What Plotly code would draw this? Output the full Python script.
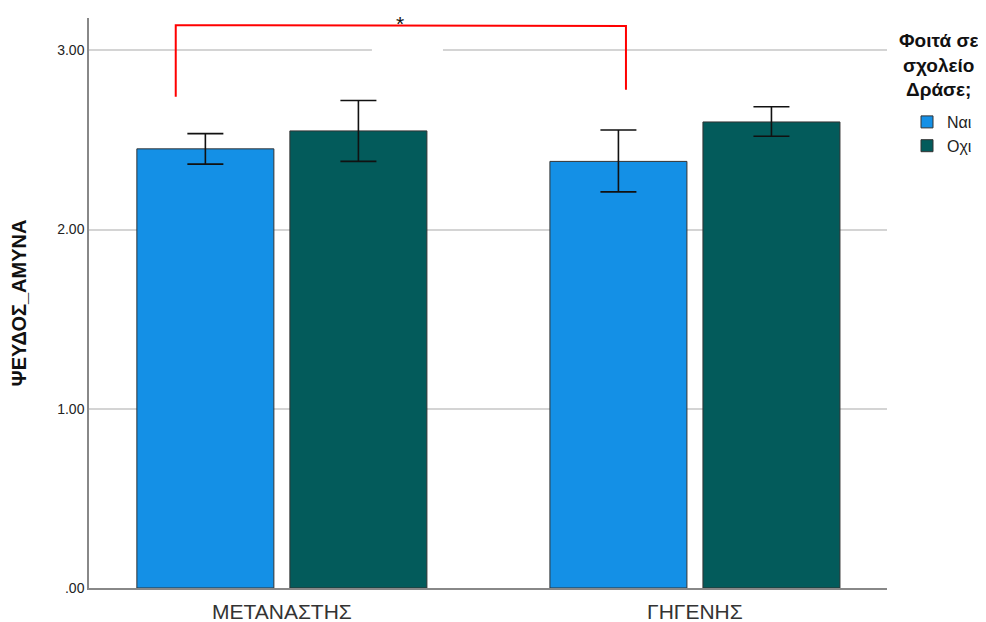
import plotly.graph_objects as go

categories = ["ΜΕΤΑΝΑΣΤΗΣ", "ΓΗΓΕΝΗΣ"]
series_names = ["Ναι", "Οχι"]
means_nai = [2.45, 2.38]
means_oxi = [2.55, 2.60]
err_plus_nai = [0.085, 0.175]
err_minus_nai = [0.085, 0.17]
err_plus_oxi = [0.17, 0.085]
err_minus_oxi = [0.17, 0.08]
colors = ["#1490e6", "#035b5b"]
y_ticks = [0, 1, 2, 3]
y_tick_labels = [".00", "1.00", "2.00", "3.00"]

W, H = 970, 614

fig = go.Figure()
for name, means, ep, em, col in [
    (series_names[0], means_nai, err_plus_nai, err_minus_nai, colors[0]),
    (series_names[1], means_oxi, err_plus_oxi, err_minus_oxi, colors[1]),
]:
    fig.add_trace(go.Bar(
        x=categories, y=means, name=name,
        marker=dict(color=col, line=dict(color="#333333", width=1)),
        error_y=dict(type="data", symmetric=False, array=ep, arrayminus=em,
                     color="#111111", thickness=1.6, width=18),
    ))

# gap in the top gridline
fig.add_shape(type="line", xref="x", yref="y", x0=0.218, x1=0.39, y0=3, y1=3,
              line=dict(color="white", width=4), layer="between")
# significance bracket
fig.add_shape(type="path", xref="x", yref="y",
              path="M -0.257 2.74 L -0.257 3.14 L 0.833 3.135 L 0.833 2.78",
              line=dict(color="#ff0000", width=2))
fig.add_annotation(x=0.287, y=3.14, xref="x", yref="y", text="*", showarrow=False,
                   yanchor="top", yshift=15, font=dict(size=21, color="#111111"))
fig.add_annotation(x=1.065, y=0.983, xref="paper", yref="paper", xanchor="center", yanchor="top",
                   text="<b>Φοιτά σε<br>σχολείο<br>Δράσε;</b>", showarrow=False,
                   font=dict(size=19, color="#111111", family="Liberation Sans, Arial"),
                   align="center")

fig.update_layout(
    width=W, height=H,
    margin=dict(l=81, r=91, t=10, b=34, autoexpand=False),
    paper_bgcolor="white", plot_bgcolor="white",
    barmode="group", bargap=0.259, bargroupgap=0.1046,
    font=dict(family="Liberation Sans, Arial", color="#222222"),
    showlegend=True,
    legend=dict(x=899 / W, y=1 - 97 / H, xref="container", yref="container",
                xanchor="left", yanchor="top",
                font=dict(size=16, color="#222222"), tracegroupgap=0,
                itemwidth=30),
    xaxis=dict(range=[-0.467, 1.465], showline=True, linecolor="#888888", linewidth=1.5,
               showgrid=False, ticks="", automargin=False, ticklabelstandoff=4,
               tickfont=dict(size=21, color="#333333")),
    yaxis=dict(range=[0, 3.18], tickvals=y_ticks, ticktext=y_tick_labels,
               showline=True, linecolor="#888888", linewidth=1.5, automargin=False,
               showgrid=True, gridcolor="#d4d4d4", gridwidth=2, zeroline=False,
               ticks="", tickfont=dict(size=14, color="#222222"),
               title=dict(text="<b>ΨΕΥΔΟΣ_ΑΜΥΝΑ</b>", font=dict(size=20, color="#111111"),
                          standoff=27)),
)

fig.write_html("out.html")
